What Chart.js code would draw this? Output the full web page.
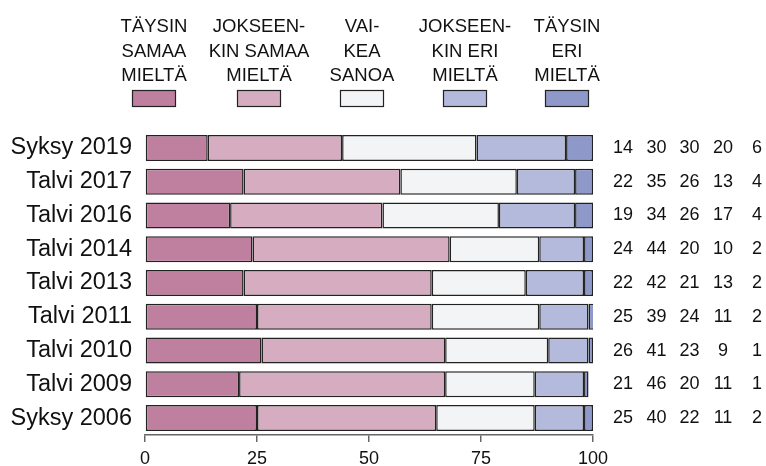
<!DOCTYPE html>
<html>
<head>
<meta charset="utf-8">
<script src="https://cdn.jsdelivr.net/npm/chart.js@4/dist/chart.umd.min.js"></script>
<style>
  html, body { margin:0; padding:0; background:#fff; }
  #wrap { width:766px; height:466px; }
</style>
</head>
<body>
<div id="wrap"><canvas id="chart" width="766" height="466"></canvas></div>
<script>
// Survey shares (%) per round, five answer categories
const rounds = ['Syksy 2019','Talvi 2017','Talvi 2016','Talvi 2014','Talvi 2013','Talvi 2011','Talvi 2010','Talvi 2009','Syksy 2006'];
const taysinSamaa = [14,22,19,24,22,25,26,21,25];
const jokseenkinSamaa = [30,35,34,44,42,39,41,46,40];
const vaikeaSanoa = [30,26,26,20,21,24,23,20,22];
const jokseenkinEri = [20,13,17,10,13,11,9,11,11];
const taysinEri = [6,4,4,2,2,2,1,1,2];
const legendLabels = [
  ['TÄYSIN','SAMAA','MIELTÄ'],
  ['JOKSEEN-','KIN SAMAA','MIELTÄ'],
  ['VAI-','KEA','SANOA'],
  ['JOKSEEN-','KIN ERI','MIELTÄ'],
  ['TÄYSIN','ERI','MIELTÄ']
];
const xTicks = [0,25,50,75,100];

const colors = ['#bf809f','#d6adc0','#f3f4f6','#b4badc','#8e99c9'];
const series = [taysinSamaa, jokseenkinSamaa, vaikeaSanoa, jokseenkinEri, taysinEri];
const FONT = '"Liberation Sans", Arial, sans-serif';

// legend above the plot + value columns on the right
const extras = {
  id:'extras',
  afterDraw(chart){
    const ctx = chart.ctx;
    const y = chart.scales.y;
    const legendX = [154, 259, 362, 465, 567];
    ctx.save();
    ctx.fillStyle = '#111';
    ctx.textAlign = 'center';
    ctx.textBaseline = 'alphabetic';
    ctx.font = '18.5px ' + FONT;
    legendLabels.forEach((lines,i)=>{
      lines.forEach((t,j)=>ctx.fillText(t, legendX[i], 32 + j*24.5));
      ctx.fillStyle = colors[i];
      ctx.fillRect(legendX[i]-22, 90, 44, 17);
      ctx.strokeStyle = '#222';
      ctx.lineWidth = 1.2;
      ctx.strokeRect(legendX[i]-22+0.5, 90.5, 43, 16);
      ctx.fillStyle = '#111';
    });
    // numbers
    const colX = [623, 656.5, 689.5, 723, 757];
    ctx.font = '18px ' + FONT;
    rounds.forEach((r,k)=>{
      const py = y.getPixelForValue(k);
      series.forEach((s,i)=>ctx.fillText(String(s[k]), colX[i], py + 5));
    });
    ctx.restore();
  }
};

new Chart(document.getElementById('chart'), {
  type:'bar',
  data:{
    labels: rounds,
    datasets: series.map((s,i)=>({
      label: legendLabels[i].join(' '),
      data: s,
      backgroundColor: colors[i],
      borderColor: '#222',
      borderWidth: 1.5,
      borderSkipped: false,
      barPercentage: 0.77,
      categoryPercentage: 1
    }))
  },
  options:{
    indexAxis:'y',
    responsive:false,
    animation:false,
    devicePixelRatio:1,
    layout:{padding:{left:0, right:173, top:131, bottom:0}},
    plugins:{legend:{display:false}, tooltip:{enabled:false}},
    scales:{
      x:{
        stacked:true, min:0, max:100,
        afterBuildTicks(scale){ scale.ticks = xTicks.map(v=>({value:v})); },
        afterFit(scale){ scale.height = 31; },
        grid:{drawOnChartArea:false, drawTicks:true, tickLength:7, color:'#666', lineWidth:1.5},
        border:{display:true, color:'#666', width:1.5},
        ticks:{color:'#111', font:{family:FONT, size:18}, padding:6, maxRotation:0}
      },
      y:{
        stacked:true,
        afterFit(scale){ scale.width = 145; },
        grid:{display:false, drawTicks:false},
        border:{display:false},
        ticks:{color:'#111', font:{family:FONT, size:23.5}, padding:13}
      }
    }
  },
  plugins:[extras]
});
</script>
</body>
</html>
